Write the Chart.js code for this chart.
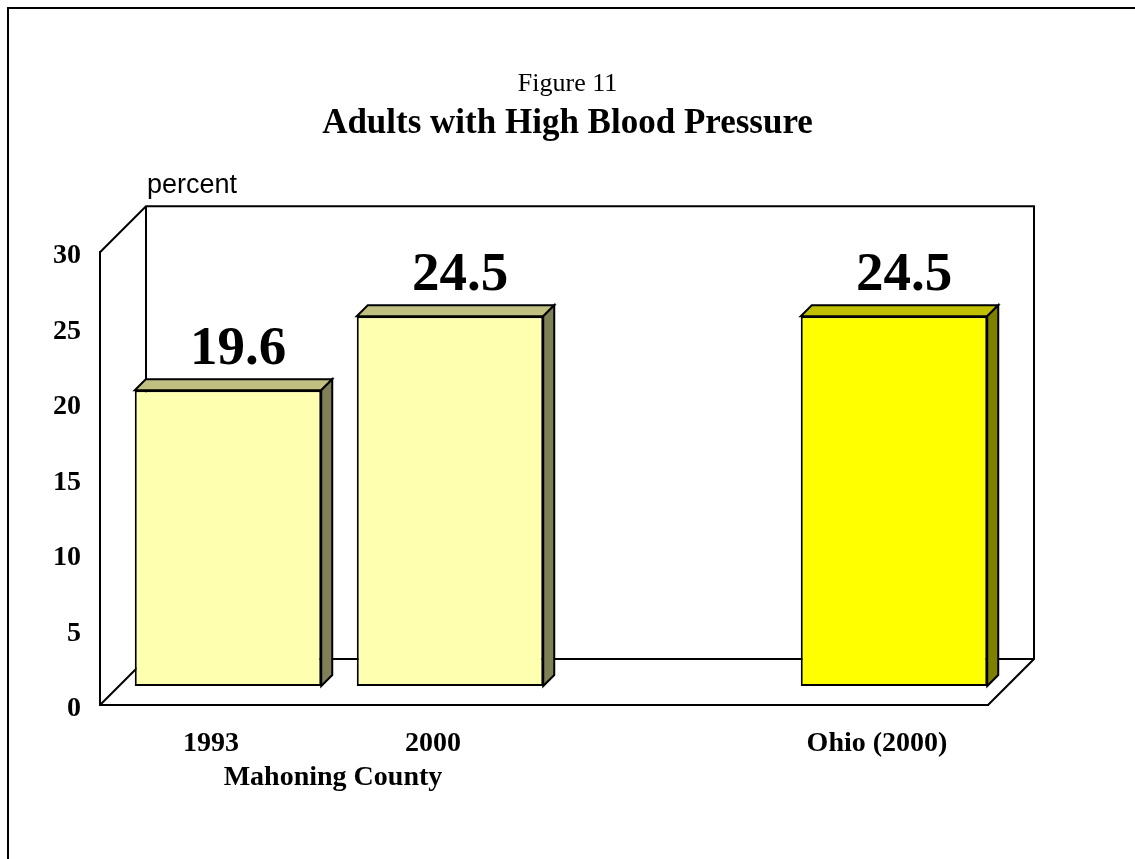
<!DOCTYPE html>
<html>
<head>
<meta charset="utf-8">
<script src="https://cdn.jsdelivr.net/npm/chart.js@4.4.1/dist/chart.umd.min.js"></script>
<style>
  html, body { margin: 0; padding: 0; background: #fff; overflow: hidden; }
  canvas { display: block; }
</style>
</head>
<body>
<canvas id="bpChart" width="1135" height="859"></canvas>
<script>
const categories = ['1993', '2000', '', 'Ohio (2000)'];
const percentValues = [19.6, 24.5, null, 24.5];
const yTicks = [0, 5, 10, 15, 20, 25, 30];
const groupLabel = 'Mahoning County';

const serif = "'Liberation Serif', 'Times New Roman', serif";
const frontColors = ['#FFFFB0', '#FFFFB0', '#FFFFB0', '#FFFF00'];
const topColors = ['#C0C080', '#C0C080', '#C0C080', '#C0C000'];
const sideColors = ['#808058', '#808058', '#808058', '#808000'];

const WALL = 46;                 // depth of the box behind the front plane
const BAR_DX = 17, BAR_DY = 19;  // bars stand a bit behind the front plane
const BAR_DEPTH = 11;

const box3d = {
  id: 'box3d',
  beforeDraw(chart) {
    const ctx = chart.ctx;
    ctx.save();
    ctx.strokeStyle = '#000';
    ctx.lineWidth = 2;
    ctx.beginPath();
    ctx.moveTo(8, chart.height);
    ctx.lineTo(8, 8);
    ctx.lineTo(chart.width, 8);
    ctx.stroke();
    ctx.restore();
  },
  beforeDatasetsDraw(chart) {
    const { ctx, chartArea: a } = chart;
    ctx.save();
    ctx.strokeStyle = '#000';
    ctx.lineWidth = 2;
    ctx.beginPath();
    ctx.moveTo(a.left, a.top);
    ctx.lineTo(a.left + WALL, a.top - WALL);
    ctx.lineTo(a.right + WALL, a.top - WALL);
    ctx.lineTo(a.right + WALL, a.bottom - WALL);
    ctx.lineTo(a.right, a.bottom);
    ctx.moveTo(a.left + WALL, a.top - WALL);
    ctx.lineTo(a.left + WALL, a.bottom - WALL);
    ctx.lineTo(a.right + WALL, a.bottom - WALL);
    ctx.moveTo(a.left, a.bottom);
    ctx.lineTo(a.left + WALL, a.bottom - WALL);
    ctx.stroke();

    ctx.fillStyle = '#000';
    ctx.font = "27px 'Liberation Sans', Arial, sans-serif";
    ctx.textAlign = 'left';
    ctx.textBaseline = 'alphabetic';
    ctx.fillText('percent', a.left + WALL + 1, a.top - 59);
    ctx.restore();

    // top and side faces, then Chart.js draws the front faces in the same shifted plane
    ctx.save();
    ctx.translate(BAR_DX, -BAR_DY);
    const d = BAR_DEPTH;
    chart.getDatasetMeta(0).data.forEach((bar, i) => {
      if (percentValues[i] == null) return;
      const x0 = bar.x - bar.width / 2, x1 = bar.x + bar.width / 2;
      const yTop = bar.y, yBase = bar.base;
      ctx.lineWidth = 2;
      ctx.strokeStyle = '#000';
      ctx.lineJoin = 'miter';

      ctx.beginPath();
      ctx.moveTo(x0, yTop);
      ctx.lineTo(x0 + d, yTop - d);
      ctx.lineTo(x1 + d, yTop - d);
      ctx.lineTo(x1, yTop);
      ctx.closePath();
      ctx.fillStyle = topColors[i];
      ctx.fill();
      ctx.stroke();

      ctx.beginPath();
      ctx.moveTo(x1, yTop);
      ctx.lineTo(x1 + d, yTop - d);
      ctx.lineTo(x1 + d, yBase - d);
      ctx.lineTo(x1, yBase);
      ctx.closePath();
      ctx.fillStyle = sideColors[i];
      ctx.fill();
      ctx.stroke();
    });
  },
  afterDatasetsDraw(chart) {
    const { ctx, chartArea: a } = chart;
    ctx.fillStyle = '#000';
    ctx.font = 'bold 55px ' + serif;
    ctx.textAlign = 'center';
    ctx.textBaseline = 'alphabetic';
    chart.getDatasetMeta(0).data.forEach((bar, i) => {
      if (percentValues[i] == null) return;
      ctx.fillText(percentValues[i].toFixed(1), bar.x + 10, bar.y - 26);
    });
    ctx.restore();

    const xs = chart.scales.x;
    const mid = (xs.getPixelForTick(0) + xs.getPixelForTick(1)) / 2;
    ctx.save();
    ctx.fillStyle = '#000';
    ctx.font = 'bold 28px ' + serif;
    ctx.textAlign = 'center';
    ctx.textBaseline = 'alphabetic';
    ctx.fillText(groupLabel, mid + 11, a.bottom + 80);
    ctx.restore();
  }
};

new Chart(document.getElementById('bpChart'), {
  type: 'bar',
  data: {
    labels: categories,
    datasets: [{
      data: percentValues,
      backgroundColor: frontColors,
      borderColor: '#000',
      borderWidth: 2,
      borderSkipped: false,
      categoryPercentage: 1,
      barPercentage: 0.84
    }]
  },
  options: {
    responsive: false,
    devicePixelRatio: 1,
    animation: false,
    layout: { padding: 0 },
    plugins: {
      legend: { display: false },
      tooltip: { enabled: false },
      title: {
        display: true,
        text: 'Figure 11',
        color: '#000',
        font: { family: serif, size: 26, weight: 'normal', lineHeight: 1.2 },
        padding: { top: 69, bottom: 3 }
      },
      subtitle: {
        display: true,
        text: 'Adults with High Blood Pressure',
        color: '#000',
        font: { family: serif, size: 35, weight: 'bold', lineHeight: 1.2 },
        padding: { top: 0, bottom: 107 }
      }
    },
    scales: {
      x: {
        grid: { display: false },
        border: { display: true, color: '#000', width: 2 },
        ticks: {
          color: '#000',
          font: { family: serif, size: 28, weight: 'bold' },
          padding: 14,
          maxRotation: 0,
          autoSkip: false
        },
        afterFit: s => { s.height = 154; }
      },
      y: {
        min: 0,
        max: 30,
        grid: { display: false, drawTicks: false },
        border: { display: true, color: '#000', width: 2 },
        ticks: {
          color: '#000',
          font: { family: serif, size: 28, weight: 'bold' },
          padding: 19,
          labelOffset: 4
        },
        afterBuildTicks: s => { s.ticks = yTicks.map(v => ({ value: v })); },
        afterFit: s => { s.width = 100; }
      },
      yRight: {
        position: 'right',
        grid: { display: false },
        border: { display: false },
        ticks: { display: false },
        afterFit: s => { s.width = 147; }
      }
    }
  },
  plugins: [box3d]
});
</script>
</body>
</html>
